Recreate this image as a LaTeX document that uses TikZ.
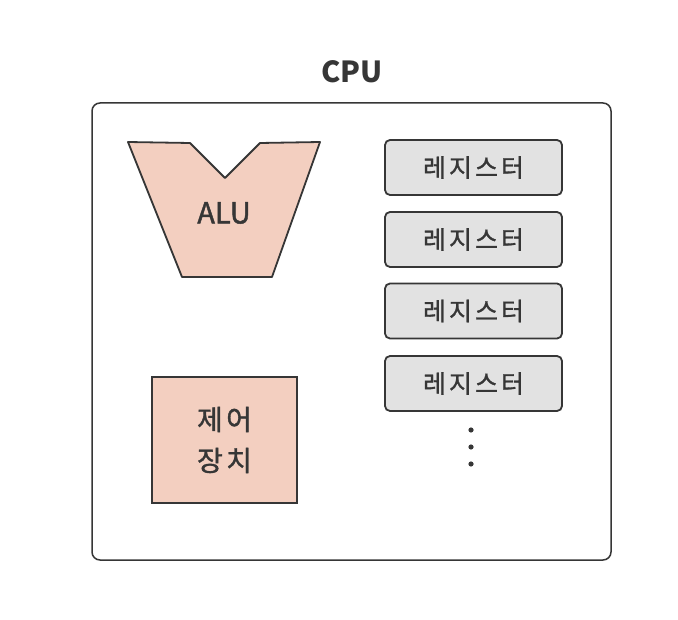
\documentclass[tikz,border=0pt]{standalone}
\usepackage{fontspec}
\setmainfont{Noto Sans CJK KR}
\newfontfamily\krsp[LetterSpace=12,FakeBold=1.2]{Noto Sans CJK KR}
\newfontfamily\lat[FakeBold=1.5]{Noto Sans CJK KR}
\definecolor{ink}{HTML}{363636}
\definecolor{peach}{HTML}{F3CFC0}
\definecolor{reggray}{HTML}{E2E2E2}
\tikzset{
  outerbox/.style={draw=ink, line width=1.5pt, rounded corners=8pt, fill=white, inner sep=0pt, outer sep=0pt},
  regbox/.style={draw=ink, line width=1.8pt, rounded corners=5pt, fill=reggray, minimum width=177pt, minimum height=55pt, inner sep=0pt, text=ink, font=\krsp\fontsize{25}{28}\selectfont},
  ctrlbox/.style={draw=ink, line width=1.8pt, fill=peach, minimum width=145pt, minimum height=126pt, inner sep=0pt, text=ink, align=center, font=\krsp\fontsize{28}{41}\selectfont},
  alushape/.style={draw=ink, line width=1.8pt, fill=peach, line join=round},
  lbl/.style={text=ink, inner sep=0pt},
  dotmark/.style={fill=ink}
}
\begin{document}
\begin{tikzpicture}[x=1pt,y=-1pt]
\useasboundingbox (0,0) rectangle (678,620);
\fill[white] (0,0) rectangle (678,620);
\node[outerbox, minimum width=519pt, minimum height=457pt] (cpu) at (351.5,331.5) {};
\node[lbl, font=\bfseries\fontsize{29}{32}\selectfont] (cpulabel) at (352,72) {CPU};
\draw[alushape] (128,142) -- (190,143) -- (225,178) -- (260,143) -- (320,142) -- (272,277) -- (182,277) -- cycle;
\node[lbl, font=\lat\fontsize{29}{30}\selectfont] (alu) at (224,213) {ALU};
\node[regbox] (reg1) at (473.5,167.5) {레지스터};
\node[regbox] (reg2) at (473.5,239.5) {레지스터};
\node[regbox] (reg3) at (473.5,311) {레지스터};
\node[regbox] (reg4) at (473.5,383.5) {레지스터};
\fill[dotmark] (471,430) circle (2.6);
\fill[dotmark] (471,447) circle (2.6);
\fill[dotmark] (471,464) circle (2.6);
\node[ctrlbox] (ctrl) at (224.5,440) {제어\\장치};
\end{tikzpicture}
\end{document}
